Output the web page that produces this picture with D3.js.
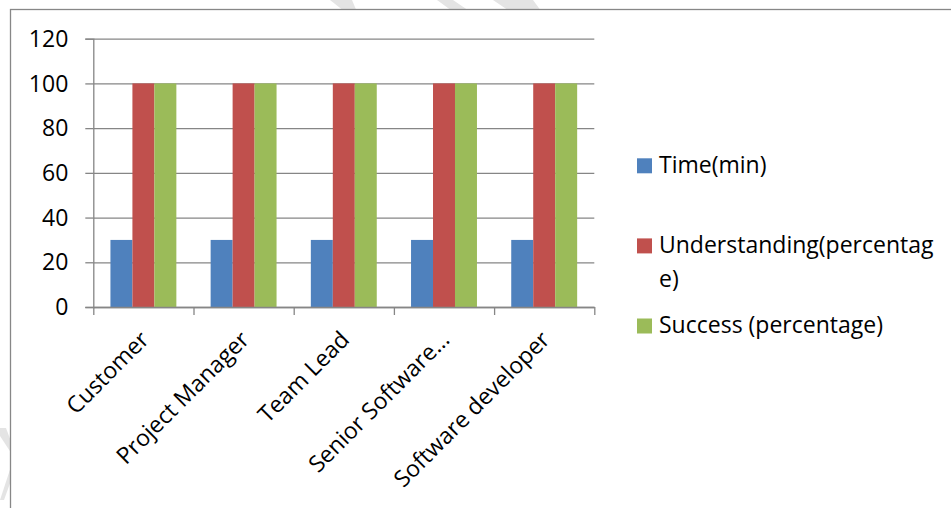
<!DOCTYPE html>
<html>
<head>
<meta charset="utf-8">
<script src="https://cdn.jsdelivr.net/npm/d3@7"></script>
<style>
  html, body { margin: 0; padding: 0; background: #fff; }
  svg { display: block; }
  text { font-family: "Open Sans", "Noto Sans", sans-serif; fill: #000; }
</style>
</head>
<body>
<svg id="chart" width="951" height="508"></svg>
<script>
// Categories and series values
const categories = ["Customer", "Project Manager", "Team Lead", "Senior Software…", "Software developer"];
const seriesNames = ["Time(min)", "Understanding(percentage)", "Success (percentage)"];
const timeMin = [30, 30, 30, 30, 30];
const understandingPct = [100, 100, 100, 100, 100];
const successPct = [100, 100, 100, 100, 100];
const yTicks = [0, 20, 40, 60, 80, 100, 120];
const colors = ["#4F81BD", "#C0504D", "#9BBB59"];

const seriesValues = [timeMin, understandingPct, successPct];
const rows = categories.map((c, i) => {
  const r = { category: c };
  seriesNames.forEach((s, j) => { r[s] = seriesValues[j][i]; });
  return r;
});

const svg = d3.select("#chart");
const fontSize = 23;
const gridColor = "#868686";

// faint background stripes outside the chart frame
const stripes = [
  [[330, 0], [352, 0], [356, 9.5], [342, 9.5]],
  [[437, 0], [453, 0], [467, 9.5], [450, 9.5]],
  [[493, 0], [533, 0], [540, 9.5], [507, 9.5]],
  [[0, 428], [6, 428], [10.5, 440], [10.5, 452], [0, 436]],
  [[0, 500], [10.5, 468], [10.5, 482], [4, 500]]
];
svg.selectAll("polygon.stripe").data(stripes).join("polygon")
  .attr("class", "stripe")
  .attr("points", d => d.map(p => p.join(",")).join(" "))
  .attr("fill", "#e4e4e4");

// chart frame
svg.append("rect")
  .attr("x", 10.5).attr("y", 9.5)
  .attr("width", 1000).attr("height", 600)
  .attr("fill", "#fff")
  .attr("stroke", "#878787").attr("stroke-width", 1.3);

const plotLeft = 93.3, plotRight = 594.3, plotTop = 38.7, plotBottom = 307;

const y = d3.scaleLinear().domain([0, 120]).range([plotBottom, plotTop]);
const x0 = d3.scaleBand().domain(categories).range([plotLeft, plotRight]).paddingInner(0).paddingOuter(0);
const x1 = d3.scaleBand().domain(seriesNames).range([0, x0.bandwidth()]).paddingInner(0).paddingOuter(0.78);
const color = d3.scaleOrdinal().domain(seriesNames).range(colors);

// horizontal gridlines
const grid = svg.append("g")
  .attr("transform", `translate(${plotLeft},0)`)
  .call(d3.axisLeft(y).tickValues(yTicks).tickSize(-(plotRight - plotLeft)).tickFormat(""));
grid.select(".domain").remove();
grid.selectAll("line").attr("stroke", gridColor).attr("stroke-width", 1.3);

// bars
svg.append("g")
  .selectAll("g")
  .data(rows)
  .join("g")
  .attr("transform", d => `translate(${x0(d.category)},0)`)
  .selectAll("rect")
  .data(d => seriesNames.map(s => ({ key: s, value: d[s] })))
  .join("rect")
  .attr("x", d => x1(d.key))
  .attr("width", x1.bandwidth())
  .attr("y", d => y(d.value))
  .attr("height", d => y(0) - y(d.value))
  .attr("fill", d => color(d.key));

// y axis
const yAxis = svg.append("g")
  .attr("transform", `translate(${plotLeft},0)`)
  .call(d3.axisLeft(y).tickValues(yTicks).tickSize(8).tickPadding(17));
yAxis.select(".domain").attr("stroke", gridColor).attr("stroke-width", 1.3);
yAxis.selectAll("line").attr("stroke", gridColor).attr("stroke-width", 1.3);
yAxis.selectAll("text")
  .style("font-family", "'Open Sans', sans-serif")
  .style("font-size", fontSize + "px")
  .attr("fill", "#000")
  .attr("dy", "0.33em");

// x axis with ticks at category boundaries
const xEdge = d3.scaleLinear().domain([0, categories.length]).range([plotLeft, plotRight]);
const xAxis = svg.append("g")
  .attr("transform", `translate(0,${plotBottom})`)
  .call(d3.axisBottom(xEdge).tickValues(d3.range(categories.length + 1)).tickSize(8).tickFormat("").tickSizeOuter(0));
xAxis.select(".domain").attr("stroke", gridColor).attr("stroke-width", 1.3);
xAxis.selectAll("line").attr("stroke", gridColor).attr("stroke-width", 1.3);

// rotated category labels
svg.append("g")
  .selectAll("text")
  .data(categories)
  .join("text")
  .attr("transform", d => `translate(${x0(d) + x0.bandwidth() / 2 + 7},341) rotate(-45)`)
  .attr("text-anchor", "end")
  .style("font-size", fontSize + "px")
  .text(d => d);

// legend
const legendY = d3.scalePoint().domain(seriesNames).range([165.8, 326]);
const legend = svg.append("g");
const maxLegendWidth = 282;
seriesNames.forEach(name => {
  const cy = legendY(name);
  legend.append("rect")
    .attr("x", 637).attr("y", cy - 7.5)
    .attr("width", 15).attr("height", 15)
    .attr("fill", color(name));
  const t = legend.append("text")
    .attr("x", 659).attr("y", cy + 7.3)
    .style("font-size", fontSize + "px");
  // wrap by characters when the entry is too wide
  const lines = [];
  let cur = "";
  const probe = t.append("tspan");
  for (const ch of name) {
    probe.text(cur + ch);
    if (probe.node().getComputedTextLength() > maxLegendWidth && cur.length) {
      lines.push(cur);
      cur = ch;
    } else {
      cur += ch;
    }
  }
  lines.push(cur);
  probe.remove();
  lines.forEach((ln, i) => {
    t.append("tspan").attr("x", 659).attr("dy", i === 0 ? 0 : 34).text(ln);
  });
});
</script>
</body>
</html>
